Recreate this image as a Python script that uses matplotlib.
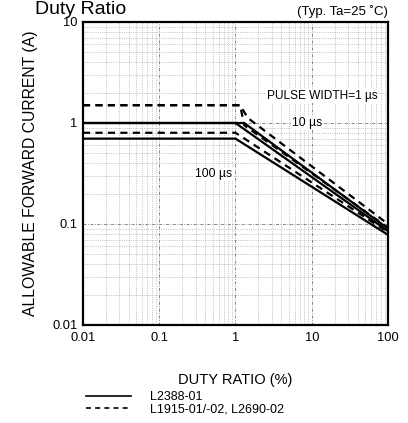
import numpy as np
import matplotlib
matplotlib.use('Agg')
import matplotlib.pyplot as plt
from matplotlib.lines import Line2D

# solid lines: L2388-01  (1 us, 10 us, 100 us)
s1_x = [0.01, 1.3, 100]
s1_y = [1.0, 1.0, 0.09]
s10_x = [0.01, 1.0, 100]
s10_y = [1.0, 1.0, 0.085]
s100_x = [0.01, 1.0, 100]
s100_y = [0.7, 0.7, 0.078]

# dashed lines: L1915-01/-02, L2690-02
d1_x = [0.01, 1.15, 1.45, 100]
d1_y = [1.5, 1.5, 1.12, 0.1]
d10_x = [0.01, 1.15, 1.3, 100]
d10_y = [1.5, 1.5, 0.95, 0.092]
d100_x = [0.01, 1.0, 100]
d100_y = [0.8, 0.8, 0.083]

xticks = [0.01, 0.1, 1, 10, 100]
xticklabels = ['0.01', '0.1', '1', '10', '100']
yticks = [0.01, 0.1, 1, 10]
yticklabels = ['0.01', '0.1', '1', '10']

plt.rcParams['font.family'] = ['Liberation Sans', 'DejaVu Sans']

fig = plt.figure(figsize=(4.08, 4.23), dpi=100)
ax = fig.add_axes([0.2034, 0.2317, 0.7476, 0.7163])

lw = 1.6
dash = (0, (3.2, 2.4))
for xs, ys in [(s1_x, s1_y), (s10_x, s10_y), (s100_x, s100_y)]:
    ax.plot(xs, ys, '-', color='black', lw=lw, zorder=3)
for xs, ys in [(d1_x, d1_y), (d10_x, d10_y), (d100_x, d100_y)]:
    ax.plot(xs, ys, color='black', lw=lw, linestyle=dash, zorder=3)

ax.set_xscale('log')
ax.set_yscale('log')
ax.set_xlim(0.01, 100)
ax.set_ylim(0.01, 10)
ax.set_xticks(xticks)
ax.set_xticklabels(xticklabels)
ax.set_yticks(yticks)
ax.set_yticklabels(yticklabels)
ax.tick_params(which='both', direction='in', length=0, labelsize=9.3)
ax.tick_params(axis='x', pad=5)
ax.tick_params(axis='y', pad=4)
ax.grid(which='major', linestyle=(0, (4, 2, 1, 2)), linewidth=0.55, color='0.4')
ax.grid(which='minor', linestyle=':', linewidth=0.5, color='0.6')
for sp in ax.spines.values():
    sp.set_linewidth(1.6)

ax.set_ylabel('ALLOWABLE FORWARD CURRENT (A)', fontsize=11.3, labelpad=10)
ax.set_xlabel('DUTY RATIO (%)', fontsize=10.5, labelpad=21)

ax.text(2.59, 1.85, 'PULSE WIDTH=1 \u00b5s', fontsize=8.6, va='center', ha='left',
        bbox=dict(facecolor='white', edgecolor='none', pad=0.5), zorder=4)
ax.text(5.5, 1.0, '10 \u00b5s', fontsize=8.8, va='center', ha='left',
        bbox=dict(facecolor='white', edgecolor='none', pad=0.5), zorder=4)
ax.text(0.294, 0.31, '100 \u00b5s', fontsize=8.8, va='center', ha='left',
        bbox=dict(facecolor='white', edgecolor='none', pad=0.5), zorder=4)

fig.text(35 / 408, 1 - 14 / 423, 'Duty Ratio', fontsize=14, ha='left', va='baseline')
fig.text(388 / 408, 1 - 12 / 423, '(Typ. Ta=25 \u02daC)', fontsize=9.5, ha='right', va='center')

handles = [Line2D([], [], color='black', lw=1.2),
           Line2D([], [], color='black', lw=1.2, linestyle=(0, (3, 2.5)))]
fig.legend(handles, ['L2388-01', 'L1915-01/-02, L2690-02'], loc='upper left',
           bbox_to_anchor=(86 / 408, 1 - 391 / 423), frameon=False, fontsize=9,
           handlelength=3.6, handletextpad=1.5, labelspacing=0.0, borderpad=0,
           borderaxespad=0)

fig.savefig('out.png', dpi=100)
